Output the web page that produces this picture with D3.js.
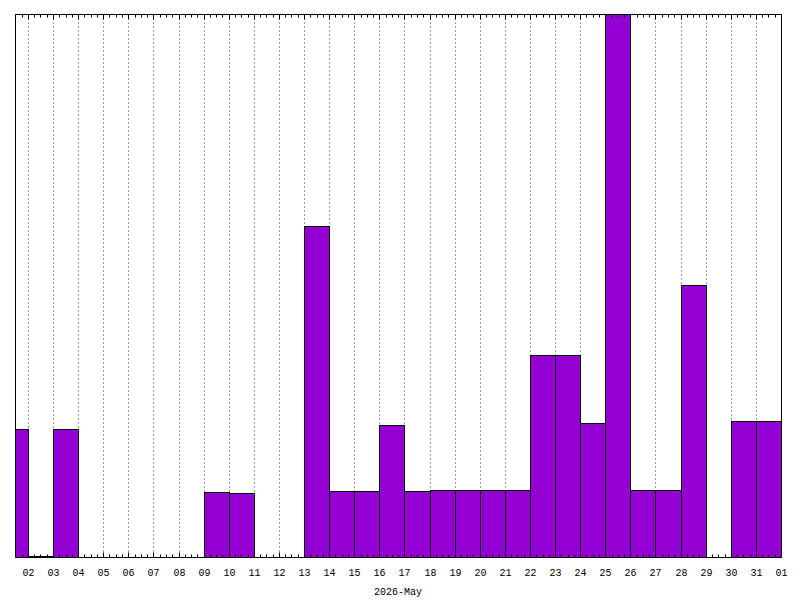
<!DOCTYPE html>
<html>
<head>
<meta charset="utf-8">
<script src="https://d3js.org/d3.v7.min.js"></script>
<style>
  body { margin: 0; background: #fff; }
  svg { display: block; }
  text { font-family: "Liberation Mono", "DejaVu Sans Mono", monospace; font-size: 10px; fill: #000; }
</style>
</head>
<body>
<svg width="800" height="600"></svg>
<script>
// one bar per day (bar covers midnight -> next midnight)
const days = ["2026-05-01", "2026-05-02", "2026-05-03", "2026-05-04", "2026-05-05",
  "2026-05-06", "2026-05-07", "2026-05-08", "2026-05-09", "2026-05-10",
  "2026-05-11", "2026-05-12", "2026-05-13", "2026-05-14", "2026-05-15",
  "2026-05-16", "2026-05-17", "2026-05-18", "2026-05-19", "2026-05-20",
  "2026-05-21", "2026-05-22", "2026-05-23", "2026-05-24", "2026-05-25",
  "2026-05-26", "2026-05-27", "2026-05-28", "2026-05-29", "2026-05-30",
  "2026-05-31"];
const values = [190, 2, 190, 0, 0,
  0, 0, 0, 96, 95,
  0, 0, 492, 98, 98,
  197, 98, 100, 100, 100,
  100, 301, 301, 200, 808,
  100, 100, 405, 0, 202,
  202];
const axisTitle = "2026-May";

const margin = { left: 15, right: 19, top: 14, bottom: 43 };
const W = 800, H = 600;

const svg = d3.select("svg");

const x = d3.scaleUtc()
  .domain([new Date(Date.UTC(2026, 4, 1, 11, 40)), new Date(Date.UTC(2026, 5, 1))])
  .range([margin.left, W - margin.right]);

const y = d3.scaleLinear()
  .domain([0, d3.max(values)])
  .range([H - margin.bottom, margin.top]);

const x0 = margin.left, x1 = W - margin.right;
const y0 = H - margin.bottom, y1 = margin.top;

svg.append("defs").append("clipPath").attr("id", "plot")
  .append("rect")
  .attr("x", x0).attr("y", y1)
  .attr("width", x1 - x0).attr("height", y0 - y1);

const majors = x.ticks(d3.utcDay.every(1)).filter(d => x(d) > x0 + 1);
const minors = x.ticks(d3.utcHour.every(6)).filter(d => d.getUTCHours() !== 0);

// dashed grid at each midnight
svg.append("g")
  .selectAll("line")
  .data(majors.filter(d => x(d) < x1 - 1))
  .join("line")
  .attr("x1", d => Math.round(x(d)) + 0.5)
  .attr("x2", d => Math.round(x(d)) + 0.5)
  .attr("y1", y1)
  .attr("y2", y0)
  .attr("stroke", "#a0a0a0")
  .attr("stroke-dasharray", "2,2");

// bars
const data = days.map((d, i) => ({ day: d3.utcParse("%Y-%m-%d")(d), value: values[i] }))
  .filter(d => d.value > 0);

svg.append("g")
  .attr("clip-path", "url(#plot)")
  .selectAll("rect")
  .data(data)
  .join("rect")
  .attr("x", d => Math.round(x(d.day)) + 0.5)
  .attr("width", d => Math.round(x(d3.utcDay.offset(d.day, 1))) - Math.round(x(d.day)))
  .attr("y", d => Math.round(y(d.value)) + 0.5)
  .attr("height", d => Math.max(0, Math.round(y(0)) - Math.round(y(d.value))))
  .attr("fill", "#9400d3")
  .attr("stroke", "#000")
  .attr("stroke-width", 1);

// frame
svg.append("path")
  .attr("d", `M${x0 + 0.5},${y0 + 0.5}V${y1 + 0.5}H${x1 + 0.5}V${y0 + 0.5}H${x0 + 0.5}`)
  .attr("fill", "none")
  .attr("stroke", "#000")
  .attr("stroke-width", 1);

// ticks on top and bottom edges
const tickG = svg.append("g").attr("stroke", "#000");
[[y1, 1], [y0, -1]].forEach(([yy, dir]) => {
  tickG.selectAll(null)
    .data(minors)
    .join("line")
    .attr("x1", d => Math.round(x(d)) + 0.5)
    .attr("x2", d => Math.round(x(d)) + 0.5)
    .attr("y1", yy + 0.5)
    .attr("y2", yy + 0.5 + dir * 3);
  tickG.selectAll(null)
    .data(majors)
    .join("line")
    .attr("x1", d => Math.round(x(d)) + 0.5)
    .attr("x2", d => Math.round(x(d)) + 0.5)
    .attr("y1", yy + 0.5)
    .attr("y2", yy + 0.5 + dir * 5);
});

// day labels
svg.append("g")
  .selectAll("text")
  .data(majors)
  .join("text")
  .attr("x", d => Math.round(x(d)) + 0.5)
  .attr("y", 576)
  .attr("text-anchor", "middle")
  .text(d3.utcFormat("%d"));

svg.append("text")
  .attr("x", 398)
  .attr("y", 595)
  .attr("text-anchor", "middle")
  .text(axisTitle);
</script>
</body>
</html>
